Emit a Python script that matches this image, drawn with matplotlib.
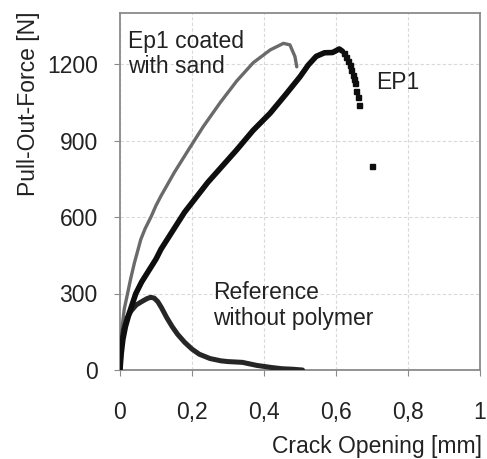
import matplotlib
matplotlib.use("Agg")
import matplotlib.pyplot as plt
from matplotlib import rcParams

rcParams["font.family"] = ["Liberation Sans", "DejaVu Sans"]
rcParams["font.size"] = 16.5

# Colours
C_SAND = "#6a6a6a"
C_EP1 = "#0e0e0e"
C_REF = "#262626"
C_TXT = "#222222"
C_FRAME = "#8a8a8a"
C_GRID = "#d9d9d9"

# ------------------------------------------------------------
# Data (crack opening [mm], pull-out force [N])
# ------------------------------------------------------------
sand_x = [0, 0.002, 0.006, 0.012, 0.021, 0.03, 0.04, 0.058, 0.07, 0.086, 0.1,
          0.114, 0.151, 0.19, 0.231, 0.278, 0.324, 0.37, 0.417, 0.454, 0.472,
          0.486, 0.491]
sand_f = [0, 80, 170, 240, 300, 360, 420, 513, 555, 600, 645,
          683, 775, 863, 954, 1048, 1133, 1205, 1255, 1281, 1275,
          1229, 1189]

ep1_x = [0, 0.003, 0.008, 0.015, 0.025, 0.044, 0.06, 0.08, 0.1, 0.114, 0.179,
         0.244, 0.324, 0.37, 0.417, 0.46, 0.5, 0.523, 0.545, 0.568, 0.59,
         0.6, 0.609, 0.618]
ep1_f = [0, 60, 120, 170, 220, 300, 345, 390, 435, 474, 618,
         736, 863, 940, 1007, 1080, 1150, 1196, 1230, 1244, 1245,
         1252, 1259, 1250]

# descending tail of EP1, recorded as scattered points
ep1_tail_x = [0.622, 0.628, 0.633, 0.638, 0.642, 0.646, 0.650, 0.653, 0.656, 0.660, 0.665, 0.699]
ep1_tail_f = [1242, 1227, 1212, 1195, 1175, 1155, 1140, 1125, 1096, 1070, 1039, 799]

ref_x = [0, 0.002, 0.005, 0.01, 0.02, 0.031, 0.045, 0.06, 0.075, 0.085, 0.095,
         0.105, 0.115, 0.13, 0.145, 0.16, 0.18, 0.2, 0.22, 0.25, 0.28, 0.3,
         0.34, 0.36, 0.38, 0.42, 0.45, 0.48, 0.507]
ref_f = [0, 50, 110, 160, 205, 232, 255, 268, 280, 285, 282,
         268, 245, 205, 170, 140, 108, 82, 62, 45, 36, 33,
         30, 24, 18, 10, 5, 3, 0]

x_ticks = [0, 0.2, 0.4, 0.6, 0.8, 1.0]
x_ticklabels = ["0", "0,2", "0,4", "0,6", "0,8", "1"]
y_ticks = [0, 300, 600, 900, 1200]

# ------------------------------------------------------------
fig = plt.figure(figsize=(4.87, 4.59), dpi=100)
ax = fig.add_axes([120 / 487, 1 - 370 / 459, 360 / 487, 357 / 459])

ax.plot(sand_x, sand_f, color=C_SAND, lw=2.4, solid_capstyle="round",
        solid_joinstyle="round", zorder=3)
ax.plot(ref_x, ref_f, color=C_REF, lw=3.6, solid_capstyle="round",
        solid_joinstyle="round", zorder=3)
ax.plot(ep1_x, ep1_f, color=C_EP1, lw=4.0, solid_capstyle="round",
        solid_joinstyle="round", zorder=4)
ax.plot(ep1_tail_x, ep1_tail_f, ls="none", marker="s", ms=3.6, color=C_EP1, zorder=4)

ax.set_xlim(0, 1)
ax.set_ylim(0, 1400)
ax.set_xticks(x_ticks)
ax.set_xticklabels(x_ticklabels)
ax.set_yticks(y_ticks)
ax.grid(True, color=C_GRID, lw=0.8, ls=(0, (3, 2)))
ax.set_axisbelow(True)
for s in ax.spines.values():
    s.set_color(C_FRAME)
    s.set_linewidth(1.3)
ax.tick_params(axis="both", direction="out", length=4, color=C_FRAME,
               labelcolor=C_TXT, labelsize=16.5)
ax.tick_params(axis="y", pad=12)
ax.tick_params(axis="x", pad=18)

# curve labels
ax.text(0.022, 1263, "Ep1 coated", color=C_TXT, va="baseline")
ax.text(0.022, 1165, "with sand", color=C_TXT, va="baseline")
ax.text(0.711, 1102, "EP1", color=C_TXT, va="baseline")
ax.text(0.258, 278, "Reference", color=C_TXT, va="baseline")
ax.text(0.258, 176, "without polymer", color=C_TXT, va="baseline")

fig.text(482 / 487, 1 - 453 / 459, "Crack Opening [mm]", color=C_TXT,
         ha="right", va="baseline")
fig.text(29 / 487, 1 - 104 / 459, "Pull-Out-Force [N]", color=C_TXT,
         rotation=90, ha="center", va="center")

fig.savefig("out.png", dpi=100)
